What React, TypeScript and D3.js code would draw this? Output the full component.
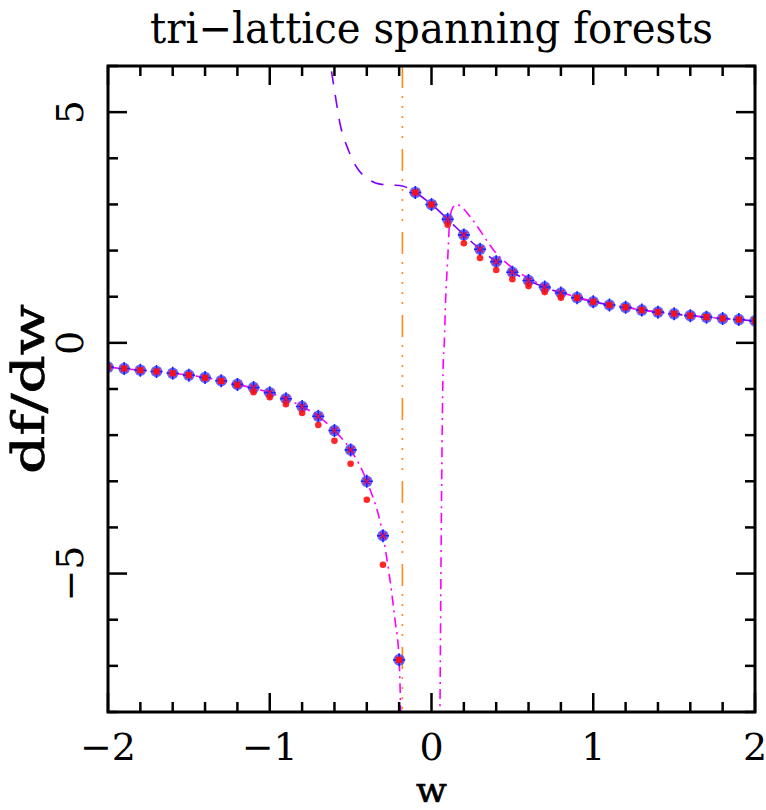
import React from 'react';
import * as d3 from 'd3';

// measured points (blue = main series, red = second estimate)
const blueX = [-2, -1.9, -1.8, -1.7, -1.6, -1.5, -1.4, -1.3, -1.2, -1.1, -1.0, -0.9, -0.8, -0.7, -0.6, -0.5, -0.4, -0.3, -0.2,
  -0.1, 0, 0.1, 0.2, 0.3, 0.4, 0.5, 0.6, 0.7, 0.8, 0.9, 1.0, 1.1, 1.2, 1.3, 1.4, 1.5, 1.6, 1.7, 1.8, 1.9, 2.0];
const blueY = [-0.527, -0.557, -0.593, -0.62, -0.66, -0.70, -0.75, -0.82, -0.90, -0.97, -1.08, -1.21, -1.38, -1.59, -1.90, -2.32, -3.00, -4.18, -6.87,
  3.26, 3.0, 2.68, 2.34, 2.03, 1.76, 1.53, 1.35, 1.21, 1.08, 0.98, 0.89, 0.82, 0.77, 0.71, 0.665, 0.63, 0.59, 0.557, 0.527, 0.505, 0.477];
const redY = [-0.527, -0.557, -0.593, -0.62, -0.66, -0.70, -0.76, -0.83, -0.92, -1.07, -1.18, -1.33, -1.52, -1.78, -2.12, -2.62, -3.40, -4.81, -6.87,
  3.26, 3.0, 2.56, 2.16, 1.84, 1.58, 1.38, 1.23, 1.10, 0.98, 0.97, 0.89, 0.82, 0.77, 0.71, 0.665, 0.63, 0.59, 0.557, 0.527, 0.505, 0.477];

// purple dashed curve
const purpleX = [-0.64, -0.597, -0.566, -0.514, -0.452, -0.40, -0.318, -0.24, -0.18, -0.1, 0, 0.1, 0.2, 0.3, 0.4, 0.5, 0.6, 0.7, 0.8, 0.9, 1.0, 1.2, 1.4, 1.6, 1.8, 2.0];
const purpleY = [6.4, 5.41, 4.76, 4.18, 3.75, 3.57, 3.44, 3.42, 3.40, 3.26, 3.0, 2.68, 2.34, 2.03, 1.76, 1.53, 1.35, 1.21, 1.08, 0.98, 0.89, 0.77, 0.665, 0.59, 0.527, 0.477];

// magenta dash-dot curves, left and right branch
const magLeftX = [-2, -1.8, -1.6, -1.4, -1.2, -1.0, -0.9, -0.8, -0.7, -0.6, -0.5, -0.4, -0.3, -0.226, -0.2, -0.189];
const magLeftY = [-0.527, -0.593, -0.66, -0.75, -0.90, -1.08, -1.21, -1.38, -1.59, -1.90, -2.32, -3.00, -4.18, -6.0, -6.87, -8.2];
const magRightX = [0.052, 0.063, 0.072, 0.079, 0.088, 0.10, 0.11, 0.125, 0.156, 0.187, 0.238, 0.29, 0.341, 0.40, 0.454, 0.547, 0.65, 0.753, 0.9, 1.0, 1.2, 1.4, 1.6, 1.8, 2.0];
const magRightY = [-8.2, -3.0, -0.5, 0.0, 1.0, 1.8, 2.52, 2.88, 3.0, 2.94, 2.74, 2.49, 2.22, 1.94, 1.76, 1.51, 1.31, 1.15, 0.99, 0.9, 0.77, 0.665, 0.59, 0.527, 0.478];

const poleX = -0.18;

const xMajor = [-2, -1, 0, 1, 2];
const yMajor = [-5, 0, 5];

const W = 766, H = 810;
const m = { left: 108, right: 755, top: 66, bottom: 712 };

export default function App() {
  const x = d3.scaleLinear().domain([-2, 2]).range([m.left, m.right]);
  const y = d3.scaleLinear().domain([-8, 6]).range([m.bottom, m.top]);

  const xMinor = d3.range(-2, 2.0001, 0.2).map(v => +v.toFixed(2));
  const yMinor = d3.range(-8, 6.0001, 1);

  const line = d3.line<[number, number]>().x(d => x(d[0])).y(d => y(d[1])).curve(d3.curveMonotoneX);
  const zip = (a: number[], b: number[]) => a.map((v, i) => [v, b[i]] as [number, number]);

  const font = '"DejaVu Serif", serif';

  return (
    <svg width={W} height={H} style={{ position: 'absolute', left: 0, top: 0, background: '#fff' }}>
      <defs>
        <clipPath id="plot">
          <rect x={m.left} y={m.top} width={m.right - m.left} height={m.bottom - m.top} />
        </clipPath>
      </defs>

      <text x={431.5} y={43} textAnchor="middle" fontFamily={font} fontSize={42}
        textLength={563} lengthAdjust="spacingAndGlyphs">tri−lattice spanning forests</text>

      <g clipPath="url(#plot)" fill="none">
        <line x1={x(poleX)} x2={x(poleX)} y1={m.top} y2={m.bottom} stroke="#ff8c1a" strokeWidth={1.6}
          strokeDasharray="22 8 2 8 2 8 2 8 2 8 2 11" />
        <path d={line(zip(purpleX, purpleY)) || ''} stroke="#8000ff" strokeWidth={1.6} strokeDasharray="13 11" />
        <path d={line(zip(magLeftX, magLeftY)) || ''} stroke="#ff00ff" strokeWidth={1.6} strokeDasharray="10 5 2 5" />
        <path d={line(zip(magRightX, magRightY)) || ''} stroke="#ff00ff" strokeWidth={1.6} strokeDasharray="10 5 2 5" />

        {blueX.map((v, i) => (
          <g key={'b' + i} transform={`translate(${x(v)},${y(blueY[i])})`}>
            <circle r={5.8} fill="#4040ff" opacity={0.8} />
            <path d="M-6,0H6M0,-6.5V6.5" stroke="#2020ff" strokeWidth={1.6} />
            <path d="M-3,-3L3,3M-3,3L3,-3" stroke="#e0104a" strokeWidth={1.6} />
          </g>
        ))}
        {blueX.map((v, i) => (
          <circle key={'r' + i} cx={x(v)} cy={y(redY[i])} r={3.3} fill="#ff1010" opacity={0.9} />
        ))}
      </g>

      {/* ticks on all four sides */}
      <g stroke="#000" strokeWidth={2.5}>
        {xMinor.map(v => {
          const len = xMajor.includes(v) ? 19 : 10;
          return (
            <g key={'xt' + v}>
              <line x1={x(v)} x2={x(v)} y1={m.bottom} y2={m.bottom - len} />
              <line x1={x(v)} x2={x(v)} y1={m.top} y2={m.top + len} />
            </g>
          );
        })}
        {yMinor.map(v => {
          const len = yMajor.includes(v) ? 19 : 10;
          return (
            <g key={'yt' + v}>
              <line x1={m.left} x2={m.left + len} y1={y(v)} y2={y(v)} />
              <line x1={m.right} x2={m.right - len} y1={y(v)} y2={y(v)} />
            </g>
          );
        })}
      </g>
      <rect x={m.left} y={m.top} width={m.right - m.left} height={m.bottom - m.top} fill="none" stroke="#000" strokeWidth={3} />

      {xMajor.map(v => (
        <text key={'xl' + v} x={x(v)} y={760} textAnchor="middle" fontFamily={font} fontSize={38}>
          {v < 0 ? '−' + Math.abs(v) : String(v)}
        </text>
      ))}
      {yMajor.map(v => (
        <text key={'yl' + v} transform={`translate(83,${y(v)}) rotate(-90)`} textAnchor="middle" fontFamily={font} fontSize={38}>
          {v < 0 ? '−' + Math.abs(v) : String(v)}
        </text>
      ))}

      <text x={431.5} y={802} textAnchor="middle" fontFamily={font} fontSize={36} stroke="#000" strokeWidth={0.7}>w</text>
      <text transform={`translate(44,${(m.top + m.bottom) / 2}) rotate(-90)`} textAnchor="middle" fontFamily={font}
        fontSize={44} stroke="#000" strokeWidth={0.6} textLength={170} lengthAdjust="spacingAndGlyphs">df/dw</text>
    </svg>
  );
}
